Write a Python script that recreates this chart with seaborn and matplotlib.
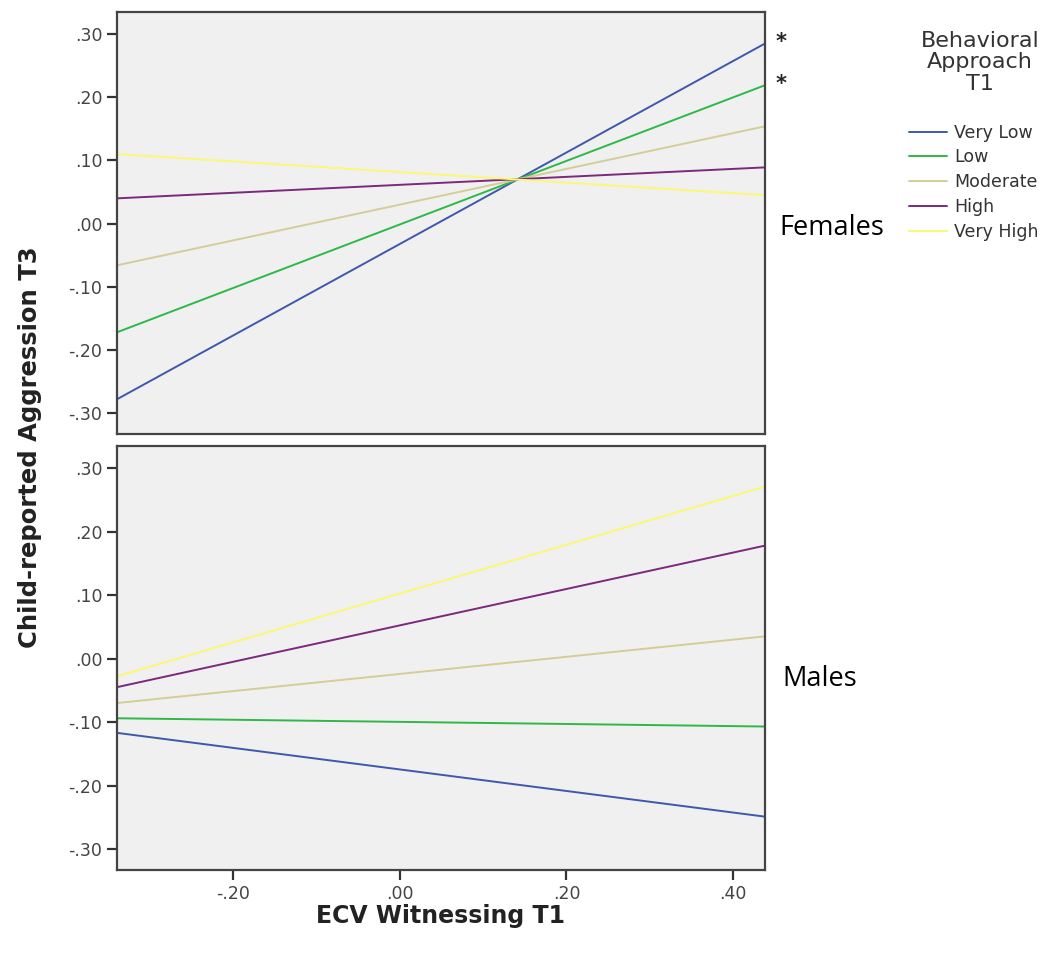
import matplotlib
matplotlib.use("Agg")
import matplotlib.pyplot as plt
import seaborn as sns
import pandas as pd

# ECV witnessing T1 at the two ends of the simple slopes
ecv_ends = [-0.339, 0.438]

levels = ["Very Low", "Low", "Moderate", "High", "Very High"]
level_colors = ["#3E58AC", "#2EB848", "#D3CE97", "#7C287D", "#FBF873"]

# predicted aggression at the left / right end, per level of behavioral approach
females_start = [-0.278, -0.172, -0.066, 0.040, 0.110]
females_end = [0.285, 0.219, 0.154, 0.089, 0.045]
males_start = [-0.117, -0.094, -0.070, -0.045, -0.028]
males_end = [-0.249, -0.107, 0.035, 0.178, 0.271]

y_ticks = [-0.30, -0.20, -0.10, 0.00, 0.10, 0.20, 0.30]
x_ticks = [-0.20, 0.00, 0.20, 0.40]


def make_frame(starts, ends):
    rows = []
    for lvl, a, b in zip(levels, starts, ends):
        rows.append({"ecv": ecv_ends[0], "agg": a, "level": lvl})
        rows.append({"ecv": ecv_ends[1], "agg": b, "level": lvl})
    return pd.DataFrame(rows)


def fmt(v):
    s = f"{v:.2f}"
    return s.replace("0.", ".", 1)


sns.set_style("white")
plt.rcParams["font.family"] = ["DejaVu Sans"]

fig = plt.figure(figsize=(10.49, 9.56), dpi=100)
ax_f = fig.add_axes([0.1115, 0.546, 0.6177, 0.4415])
ax_m = fig.add_axes([0.1115, 0.090, 0.6177, 0.4435])

palette = dict(zip(levels, level_colors))
for ax, starts, ends in [(ax_f, females_start, females_end), (ax_m, males_start, males_end)]:
    df = make_frame(starts, ends)
    sns.lineplot(data=df, x="ecv", y="agg", hue="level", hue_order=levels,
                 palette=palette, linewidth=1.4, ax=ax, legend=False)
    ax.set_facecolor("#f0f0f0")
    ax.set_xlim(ecv_ends)
    ax.set_ylim(-0.333, 0.335)
    ax.set_yticks(y_ticks)
    ax.set_yticklabels([fmt(v) for v in y_ticks], fontsize=12.5, color="#444444")
    ax.set_xticks(x_ticks)
    ax.tick_params(axis="both", direction="out", length=7, width=1.6, color="#333333",
                   left=True, bottom=True)
    for sp in ax.spines.values():
        sp.set_color("#444444")
        sp.set_linewidth(1.6)
    ax.set_xlabel("")
    ax.set_ylabel("")

ax_f.tick_params(axis="x", bottom=False, labelbottom=False)
ax_m.set_xticklabels([fmt(v) for v in x_ticks], fontsize=12.5, color="#444444")

fig.text(0.029, 0.532, "Child-reported Aggression T3", rotation=90, ha="center", va="center",
         fontsize=17.5, fontweight="bold", color="#222222")
fig.text(0.42, 0.042, "ECV Witnessing T1", ha="center", va="center",
         fontsize=17, fontweight="bold", color="#222222")

fig.text(0.743, 0.762, "Females", fontsize=19.5, family=["Open Sans", "DejaVu Sans"],
         va="center", color="black")
fig.text(0.746, 0.290, "Males", fontsize=19.5, family=["Open Sans", "DejaVu Sans"],
         va="center", color="black")

# significance marks for the two lowest levels among females
for v in females_end[:2]:
    ax_f.annotate("*", xy=(ecv_ends[1], v), xytext=(8, 1), textcoords="offset points",
                  ha="left", va="center", fontsize=15, fontweight="bold",
                  annotation_clip=False)

fig.text(0.934, 0.935, "Behavioral\nApproach\nT1", ha="center", va="center",
         multialignment="center", fontsize=16, color="#333333", linespacing=1.1)

handles = [plt.Line2D([0], [0], color=c, linewidth=1.4) for c in level_colors]
leg = fig.legend(handles, levels, loc="upper left",
                 bbox_to_anchor=(0.86, 0.878), frameon=False, fontsize=12.5,
                 handlelength=2.2, handletextpad=0.4,
                 labelspacing=0.39, borderaxespad=0)
for t in leg.get_texts():
    t.set_color("#333333")

fig.savefig("out.png", dpi=100)
